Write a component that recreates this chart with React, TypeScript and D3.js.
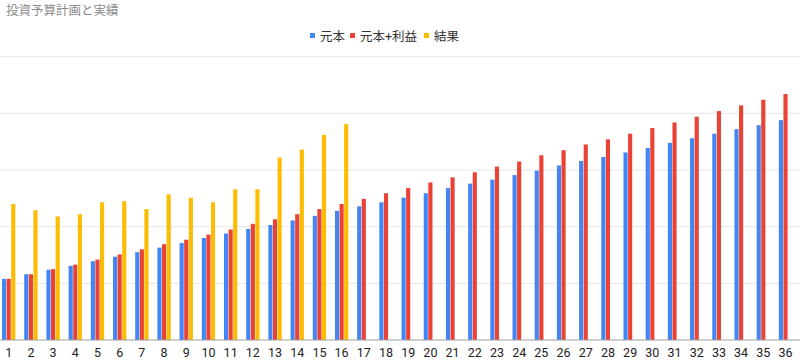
import React from "react";
import * as d3 from "d3";

const title = "投資予算計画と実績";
const seriesNames = ["元本", "元本+利益", "結果"];
const colors = ["#4285F4", "#EA4335", "#FBBC04"];
const categories = Array.from({ length: 36 }, (_, i) => String(i + 1));
const principal = [
  108, 116, 124, 131, 139, 147, 155, 163, 171, 180, 188, 196, 203, 211, 219, 228, 236, 243,
  251, 259, 268, 276, 283, 291, 299, 308, 316, 323, 331, 339, 348, 356, 364, 372, 379, 388,
];
const principalPlus = [
  108, 116, 125, 133, 142, 151, 160, 169, 177, 186, 195, 205, 213, 222, 231, 240, 249, 259,
  268, 278, 287, 296, 306, 315, 326, 335, 345, 354, 364, 374, 384, 394, 404, 414, 424, 434,
];
const result = [240, 229, 218, 222, 243, 245, 231, 257, 251, 243, 266, 266, 322, 336, 362, 381];
const yTicks = [0, 100, 200, 300, 400, 500];

const W = 800;
const H = 360;

export default function App() {
  const x = d3.scaleBand<string>().domain(categories).range([-2.4, 796.6]).paddingInner(0.4).paddingOuter(0.2);
  const inner = d3.scaleBand<number>().domain([0, 1, 2]).range([0, x.bandwidth()]).paddingInner(0.1);
  const y = d3.scaleLinear().domain([0, 500]).range([340, 56.67]);
  const series = [principal, principalPlus, result];
  const font = "Roboto, 'Noto Sans CJK JP', sans-serif";

  const legendX = [310, 350, 424];
  return (
    <svg width={W} height={H} style={{ position: "absolute", left: 0, top: 0, background: "#fff" }} fontFamily={font}>
      <rect x={0} y={0} width={W} height={H} fill="#fff" />
      <text x={6} y={14.5} fontSize={12.5} fill="#8a8a8a">{title}</text>
      {seriesNames.map((n, i) => (
        <g key={n}>
          <rect x={legendX[i]} y={33} width={5} height={5} fill={colors[i]} />
          <text x={legendX[i] + 10} y={41} fontSize={12.5} fill="#333">{n}</text>
        </g>
      ))}
      {yTicks.slice(1).map((t) => (
        <line key={t} x1={0} x2={W} y1={y(t)} y2={y(t)} stroke="#e6e6e6" strokeWidth={1} />
      ))}
      {series.map((vals, si) =>
        vals.map((v, i) => (
          <rect
            key={si + "-" + i}
            x={(x(categories[i]) as number) + (inner(si) as number)}
            y={y(v)}
            width={inner.bandwidth()}
            height={y(0) - y(v)}
            fill={colors[si]}
          />
        ))
      )}
      <line x1={0} x2={W} y1={y(0)} y2={y(0)} stroke="#9e9e9e" strokeWidth={1} />
      {categories.map((c) => (
        <text
          key={c}
          x={(x(c) as number) + x.bandwidth() / 2}
          y={357}
          textAnchor="middle"
          fontSize={12.5}
          fill="#222"
        >
          {c}
        </text>
      ))}
    </svg>
  );
}
